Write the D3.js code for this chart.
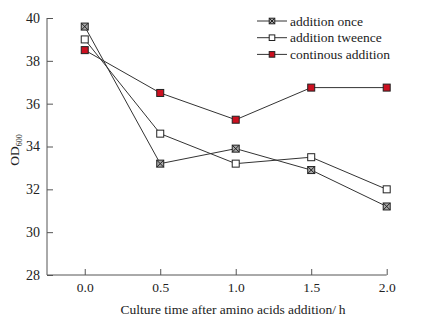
<!DOCTYPE html>
<html>
<head>
<meta charset="utf-8">
<script src="https://cdn.jsdelivr.net/npm/d3@7"></script>
<style>
  body { margin: 0; background: #fff; }
  text { font-family: "Liberation Serif", "Times New Roman", serif; fill: #222; }
</style>
</head>
<body>
<div class="chart"></div>
<script>
const svgWidth = 423,
  svgHeight = 323;

const times = [0.0, 0.5, 1.0, 1.5, 2.0];
const seriesNames = ['addition once', 'addition tweence', 'continous addition'];
const once = [39.6, 33.2, 33.9, 32.9, 31.2];
const tweence = [39.0, 34.6, 33.2, 33.5, 32.0];
const continous = [38.5, 36.5, 35.25, 36.75, 36.75];
const yTicks = [28, 30, 32, 34, 36, 38, 40];
const xTicks = [0.0, 0.5, 1.0, 1.5, 2.0];

const series = [
  { name: seriesNames[0], values: once, fill: '#a8a8a8', cross: true },
  { name: seriesNames[1], values: tweence, fill: '#ffffff', cross: false },
  { name: seriesNames[2], values: continous, fill: '#cc1020', cross: false }
];

const svg = d3.select('.chart')
  .append('svg')
  .attr('width', svgWidth)
  .attr('height', svgHeight);

const xScale = d3.scaleLinear()
  .domain([-0.25, 2.0])
  .range([47, 386.7]);

const yScale = d3.scaleLinear()
  .domain([28, 40])
  .range([275, 18]);

const axisColor = '#555';

// y axis, ticks point inward
const yAxis = d3.axisRight(yScale)
  .tickValues(yTicks)
  .tickSize(6)
  .tickFormat(d3.format('d'));

const gy = svg.append('g')
  .attr('transform', 'translate(47, 0)')
  .call(yAxis);
gy.select('.domain').attr('stroke', axisColor).attr('d', `M0,${yScale(28)}V${yScale(40)}`);
gy.selectAll('.tick line').attr('stroke', axisColor);
gy.selectAll('.tick text')
  .attr('x', -7)
  .attr('text-anchor', 'end')
  .style('font-size', '14px');

// x axis, ticks point inward
const xAxis = d3.axisTop(xScale)
  .tickValues(xTicks)
  .tickSize(6)
  .tickFormat(d3.format('.1f'));

const gx = svg.append('g')
  .attr('transform', `translate(0, ${yScale(28)})`)
  .call(xAxis);
gx.select('.domain').attr('stroke', axisColor).attr('d', `M${xScale(-0.25)},0H${xScale(2.0)}`);
gx.selectAll('.tick line').attr('stroke', axisColor);
gx.selectAll('.tick text')
  .attr('y', 17)
  .attr('dy', '0')
  .style('font-size', '13.5px');

svg.append('text')
  .attr('x', 233)
  .attr('y', 314)
  .attr('text-anchor', 'middle')
  .style('font-size', '13.5px')
  .text('Culture time after amino acids addition/\u2009h');

const ylab = svg.append('text')
  .attr('transform', 'translate(19, 150) rotate(-90)')
  .attr('text-anchor', 'middle')
  .style('font-size', '13.5px');
ylab.append('tspan').text('OD');
ylab.append('tspan').attr('dy', 3).style('font-size', '8px').text('600');

const line = d3.line()
  .x((d, i) => xScale(times[i]))
  .y(d => yScale(d));

function marker(g, s, cx, cy, r) {
  g.append('rect')
    .attr('x', cx - r).attr('y', cy - r)
    .attr('width', 2 * r).attr('height', 2 * r)
    .attr('fill', s.fill)
    .attr('stroke', '#222')
    .attr('stroke-width', 1);
  if (s.cross) {
    g.append('path')
      .attr('d', `M${cx - r},${cy - r}L${cx + r},${cy + r}M${cx + r},${cy - r}L${cx - r},${cy + r}`)
      .attr('stroke', '#222')
      .attr('stroke-width', 1);
  }
}

series.forEach(s => {
  svg.append('path')
    .datum(s.values)
    .attr('d', line)
    .attr('fill', 'none')
    .attr('stroke', '#333')
    .attr('stroke-width', 1);
});

series.forEach(s => {
  const g = svg.append('g');
  s.values.forEach((v, i) => marker(g, s, xScale(times[i]), yScale(v), 3.5));
});

// legend
series.forEach((s, i) => {
  const y = 21 + i * 16.7;
  const g = svg.append('g');
  g.append('line')
    .attr('x1', 257).attr('x2', 287)
    .attr('y1', y).attr('y2', y)
    .attr('stroke', '#333');
  marker(g, s, 272, y, 2.8);
  g.append('text')
    .attr('x', 290)
    .attr('y', y + 4.5)
    .style('font-size', '13.5px')
    .text(s.name);
});
</script>
</body>
</html>
